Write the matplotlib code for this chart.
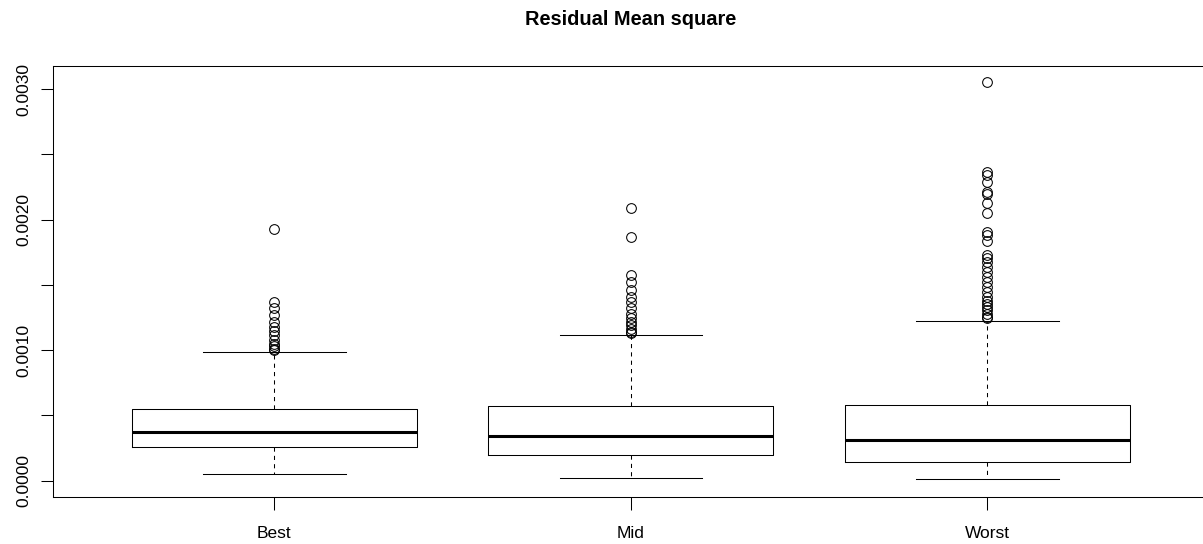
import matplotlib
matplotlib.use("Agg")
import matplotlib.pyplot as plt

plt.rcParams['font.family'] = ['Liberation Sans', 'DejaVu Sans']
plt.rcParams['lines.scale_dashes'] = False

# box statistics
categories = ['Best', 'Mid', 'Worst']
q1 = [0.000255, 0.000201, 0.000140]
med = [0.000377, 0.000346, 0.000310]
q3 = [0.000553, 0.000570, 0.000578]
whislo = [0.000048, 0.000018, 0.000010]
whishi = [0.000989, 0.001118, 0.001225]

fliers_best = [0.001928, 0.00137, 0.00132, 0.00127, 0.00122, 0.00118, 0.00115,
               0.00112, 0.00108, 0.00105, 0.00103, 0.00101, 0.00100]
fliers_mid = [0.002089, 0.00187, 0.00158, 0.00152, 0.00146, 0.00141, 0.00137,
              0.00132, 0.00128, 0.00125, 0.00122, 0.00119, 0.00116, 0.00114, 0.00113]
fliers_worst = [0.003058, 0.002362, 0.002344, 0.00229, 0.00221, 0.002197, 0.002128,
                0.002051, 0.001908, 0.001883, 0.00184, 0.00173, 0.001705, 0.001674,
                0.001636, 0.001598, 0.00156, 0.001526, 0.001483, 0.001445, 0.001407,
                0.00138, 0.001356, 0.00133, 0.001305, 0.00128, 0.001254, 0.001246]
fliers = [fliers_best, fliers_mid, fliers_worst]

yticks = [0.0000, 0.0005, 0.0010, 0.0015, 0.0020, 0.0025, 0.0030]
ylabels = ['0.0000', '', '0.0010', '', '0.0020', '', '0.0030']

stats = []
for i in range(len(categories)):
    stats.append(dict(label=categories[i], q1=q1[i], med=med[i], q3=q3[i],
                      whislo=whislo[i], whishi=whishi[i], fliers=fliers[i]))

fig = plt.figure(figsize=(12.03, 5.44), dpi=100)
ax = fig.add_axes([53.3 / 1203, 1 - 496.7 / 544, (1208.3 - 53.3) / 1203, (496.7 - 65.7) / 544])

lw = 0.75
ax.bxp(stats, positions=[1, 2, 3], widths=0.8, showfliers=True,
       boxprops=dict(color='black', linewidth=lw),
       medianprops=dict(color='black', linewidth=2.2, solid_capstyle='butt'),
       whiskerprops=dict(color='black', linewidth=lw, linestyle=(0, (3, 3))),
       capprops=dict(color='black', linewidth=lw),
       capwidths=0.4,
       flierprops=dict(marker='o', markersize=7, markerfacecolor='none',
                       markeredgecolor='black', markeredgewidth=lw, linestyle='none'))

# R style 4% padding
lo = min(min(whislo), 0.0)
hi = max(max(f) for f in fliers)
pad = (hi - lo) * 0.04
ax.set_ylim(lo - pad, hi + pad)
ax.set_xlim(0.38, 3.62)

ax.set_yticks(yticks)
ax.set_yticklabels(ylabels, rotation=90, va='center')
ax.set_xticks([1, 2, 3])
ax.set_xticklabels(categories)
ax.tick_params(axis='both', direction='out', length=9, width=lw, labelsize=12.5, color='black')
ax.tick_params(axis='x', pad=12)
ax.tick_params(axis='y', pad=7)
for s in ax.spines.values():
    s.set_linewidth(lw)

fig.text(631 / 1203, 1 - 25 / 544, 'Residual Mean square', ha='center', va='baseline',
         fontsize=14.4, fontweight='bold')

fig.savefig('out.png', dpi=100)
